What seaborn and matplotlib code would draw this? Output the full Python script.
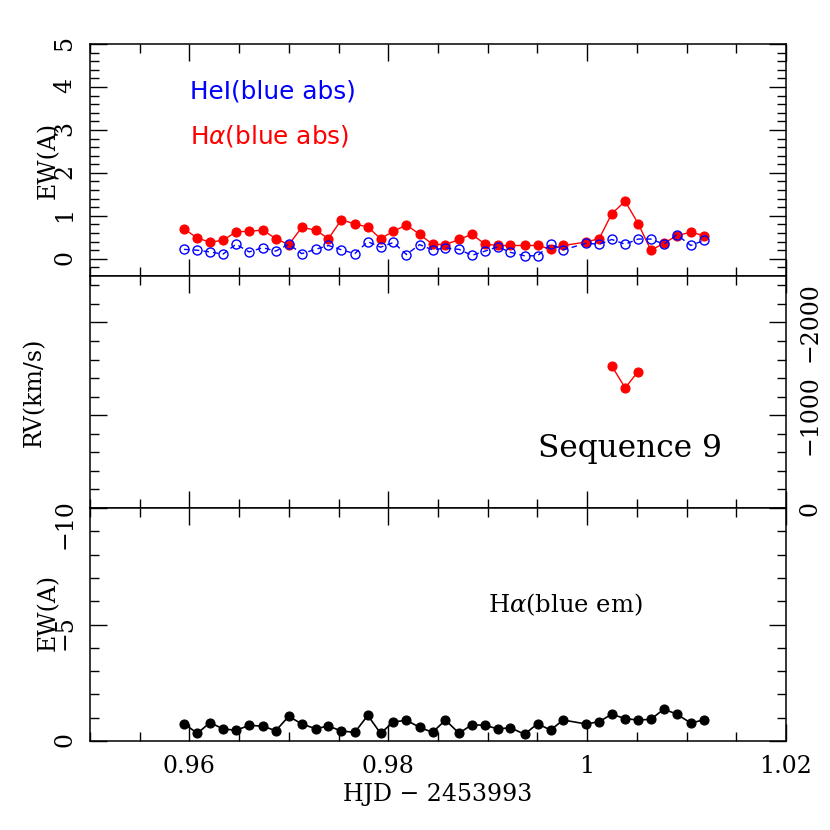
import matplotlib
matplotlib.use("Agg")
import matplotlib.pyplot as plt
from matplotlib.ticker import MultipleLocator, FuncFormatter
import numpy as np
import pandas as pd
import seaborn as sns

# ---- data ----
hjd = [0.95946, 0.96080, 0.96207, 0.96338, 0.96469, 0.96600, 0.96737, 0.96868,
       0.96999, 0.97130, 0.97268, 0.97398, 0.97529, 0.97663, 0.97794, 0.97922,
       0.98052, 0.98183, 0.98314, 0.98445, 0.98575, 0.98712, 0.98840, 0.98974,
       0.99102, 0.99229, 0.99370, 0.99501, 0.99632, 0.99759, 0.99990, 1.00121,
       1.00248, 1.00382, 1.00513, 1.00641, 1.00772, 1.00902, 1.01043, 1.01174]
ew_halpha_abs = [0.70, 0.48, 0.39, 0.43, 0.63, 0.64, 0.67, 0.47, 0.33, 0.73,
                 0.67, 0.47, 0.91, 0.81, 0.74, 0.47, 0.64, 0.79, 0.57, 0.34,
                 0.33, 0.45, 0.57, 0.34, 0.31, 0.31, 0.31, 0.31, 0.23, 0.31,
                 0.39, 0.47, 1.05, 1.34, 0.82, 0.20, 0.36, 0.54, 0.62, 0.54]
ew_hei_abs = [0.22, 0.20, 0.16, 0.11, 0.34, 0.16, 0.26, 0.18, 0.34, 0.12,
              0.22, 0.31, 0.21, 0.12, 0.40, 0.27, 0.38, 0.10, 0.33, 0.21,
              0.25, 0.22, 0.08, 0.18, 0.28, 0.15, 0.07, 0.07, 0.34, 0.21,
              0.36, 0.34, 0.45, 0.34, 0.46, 0.46, 0.34, 0.56, 0.31, 0.43]
rv_hjd = [1.00248, 1.00382, 1.00513]
rv_halpha = [-1530, -1295, -1470]
ew_halpha_em = [-0.74, -0.33, -0.79, -0.52, -0.46, -0.67, -0.64, -0.44, -1.06, -0.73,
                -0.53, -0.64, -0.43, -0.37, -1.10, -0.33, -0.82, -0.89, -0.59, -0.37,
                -0.90, -0.33, -0.70, -0.67, -0.52, -0.57, -0.29, -0.74, -0.47, -0.90,
                -0.73, -0.83, -1.15, -0.96, -0.90, -0.93, -1.37, -1.15, -0.77, -0.91]

df = pd.DataFrame({"hjd": hjd, "ha_abs": ew_halpha_abs, "hei_abs": ew_hei_abs,
                   "ha_em": ew_halpha_em})
df_rv = pd.DataFrame({"hjd": rv_hjd, "rv": rv_halpha})

sns.set_style("ticks")
plt.rcParams["font.family"] = ["DejaVu Serif"]
plt.rcParams["mathtext.fontset"] = "dejavuserif"
plt.rcParams["text.color"] = "black"
plt.rcParams["axes.labelcolor"] = "black"
plt.rcParams["xtick.color"] = "black"
plt.rcParams["ytick.color"] = "black"
plt.rcParams["axes.edgecolor"] = "black"

fig = plt.figure(figsize=(8.3, 8.3), dpi=100)
L, W = 90 / 830, 696 / 830
H = 232 / 830
ax1 = fig.add_axes([L, 1 - 276 / 830, W, H])
ax2 = fig.add_axes([L, 1 - 508 / 830, W, H], sharex=ax1)
ax3 = fig.add_axes([L, 1 - 741 / 830, W, 233 / 830], sharex=ax1)

fmt = FuncFormatter(lambda v, p: f"{v:g}".replace("-", "\u2212"))

# top panel
sns.lineplot(data=df, x="hjd", y="ha_abs", ax=ax1, color="red", marker="o",
             markersize=6.5, markeredgecolor="red", markeredgewidth=0.8,
             linewidth=1.0, sort=False, estimator=None)
sns.lineplot(data=df, x="hjd", y="hei_abs", ax=ax1, color="blue", marker="o",
             markersize=6.5, markerfacecolor="none", markeredgecolor="blue",
             markeredgewidth=1.0, linewidth=1.0, linestyle=(0, (4, 3)),
             sort=False, estimator=None)
ax1.set_ylim(-0.4, 5)
ax1.yaxis.set_major_locator(MultipleLocator(1))
ax1.yaxis.set_minor_locator(MultipleLocator(0.2))
ax1.set_ylabel("EW(A)", fontsize=17, va="center")
ax1.yaxis.set_label_coords(-0.060, 0.5)
ax1.text(0.1437, 0.767, "HeI(blue abs)", transform=ax1.transAxes, color="blue",
         fontsize=17.8, family="DejaVu Sans", va="baseline", ha="left")
ax1.text(0.1437, 0.573, r"H$\alpha$(blue abs)", transform=ax1.transAxes, color="red",
         fontsize=17.8, family="DejaVu Sans", va="baseline", ha="left",
         math_fontfamily="dejavusans")

# middle panel
sns.lineplot(data=df_rv, x="hjd", y="rv", ax=ax2, color="red", marker="o",
             markersize=6.5, markeredgecolor="red", markeredgewidth=0.8,
             linewidth=1.0, sort=False, estimator=None)
ax2.set_ylim(0, -2500)
ax2.yaxis.set_major_locator(MultipleLocator(1000))
ax2.yaxis.set_minor_locator(MultipleLocator(200))
ax2.set_ylabel("RV(km/s)", fontsize=17, va="center")
ax2.yaxis.set_label_coords(-0.080, 0.5)
ax2.text(0.644, 0.22, "Sequence 9", transform=ax2.transAxes, fontsize=22.5,
         va="baseline", ha="left")

# bottom panel
sns.lineplot(data=df, x="hjd", y="ha_em", ax=ax3, color="black", marker="o",
             markersize=6.5, markeredgecolor="black", markeredgewidth=0.8,
             linewidth=1.2, sort=False, estimator=None)
ax3.set_ylim(0, -10)
ax3.yaxis.set_major_locator(MultipleLocator(5))
ax3.yaxis.set_minor_locator(MultipleLocator(1))
ax3.set_ylabel("EW(A)", fontsize=17, va="center")
ax3.yaxis.set_label_coords(-0.060, 0.55)
ax3.text(0.572, 0.554, r"H$\alpha$(blue em)", transform=ax3.transAxes, fontsize=17.5,
         va="baseline", ha="left")
ax3.set_xlabel("HJD \u2212 2453993", fontsize=17)

ax3.set_xlim(0.95, 1.02)
ax3.xaxis.set_major_locator(MultipleLocator(0.02))
ax3.xaxis.set_minor_locator(MultipleLocator(0.005))
ax3.xaxis.set_major_formatter(fmt)

for ax in (ax1, ax2, ax3):
    ax.yaxis.set_major_formatter(fmt)
    ax.tick_params(which="both", direction="in", top=True, right=True,
                   width=1.0, colors="black")
    ax.tick_params(which="major", length=12.5)
    ax.tick_params(which="minor", length=6.5)
    ax.tick_params(axis="y", labelrotation=90, labelsize=17, pad=10)
    ax.tick_params(axis="x", labelsize=17, pad=10)
    for s in ax.spines.values():
        s.set_linewidth(1.1)
        s.set_color("black")
    if ax is not ax3:
        ax.tick_params(axis="x", labelbottom=False)
        ax.set_xlabel("")

ax2.tick_params(axis="y", labelleft=False, labelright=True, pad=9)
for lbl in ax2.get_yticklabels():
    lbl.set_va("center")

fig.savefig("out.png", dpi=100)
